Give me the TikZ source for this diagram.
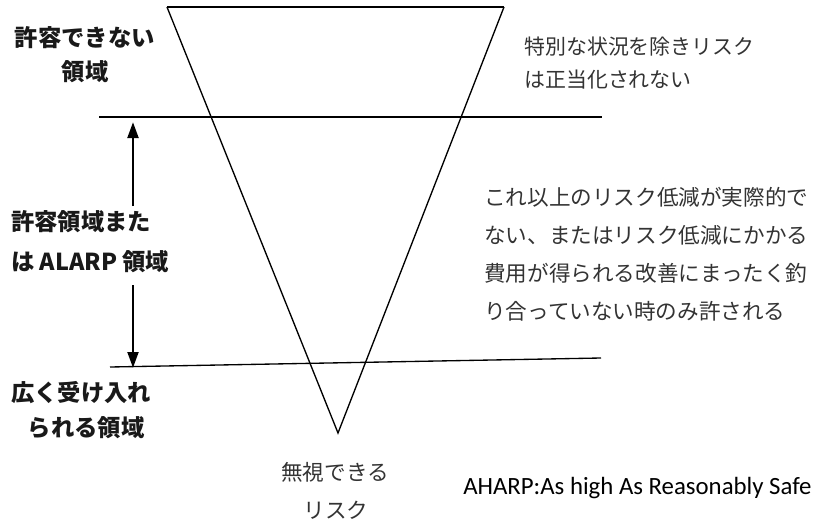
\documentclass[tikz,border=0pt]{standalone}
\usepackage{fontspec}
\usetikzlibrary{arrows.meta}
\newfontfamily\jp{Noto Sans CJK JP}
\newfontfamily\lat{Carlito}
\definecolor{txtgray}{HTML}{333333}
\begin{document}
\begin{tikzpicture}[x=0.75pt,y=-0.75pt,
  hline/.style={line width=1.3pt},
  tline/.style={line width=1pt},
  boldlbl/.style={font=\jp\bfseries\fontsize{17.5pt}{21pt}\selectfont,inner sep=0pt,text=black!90},
  note/.style={font=\jp\fontsize{15.7pt}{19pt}\selectfont,inner sep=0pt,text=txtgray,anchor=west},
  para/.style={font=\jp\fontsize{16.2pt}{19pt}\selectfont,inner sep=0pt,text=txtgray,anchor=west},
  arr/.style={line width=2.2pt,-{Triangle[length=12pt,width=8pt]}}]
\useasboundingbox (0,0) rectangle (818,525);
% triangle
\coordinate (tl) at (167,7);
\coordinate (tr) at (504,7);
\coordinate (apex) at (338,433);
\draw[hline] (tl) -- (tr);
\draw[tline] (tl) -- (apex) -- (tr);
% horizontal lines
\coordinate (u1) at (99,117);
\coordinate (u2) at (602,117);
\draw[hline] (u1) -- (u2);
\coordinate (l1) at (110,367);
\coordinate (l2) at (601,358);
\draw[tline] (l1) -- (l2);
% arrows
\coordinate (a1s) at (133,206);
\coordinate (a1e) at (133,122);
\coordinate (a2s) at (133,285);
\coordinate (a2e) at (133,368);
\draw[arr] (a1s) -- (a1e);
\draw[arr] (a2s) -- (a2e);
% left labels
\node[boldlbl] (n1) at (85,38) {許容できない};
\node[boldlbl] (n2) at (85,72) {領域};
\node[boldlbl,anchor=west] (n3) at (11,222) {許容領域また};
\node[boldlbl,anchor=west] (n4) at (11,262) {は ALARP 領域};
\node[boldlbl,anchor=west] (n5) at (11,393) {広く受け入れ};
\node[boldlbl] (n6) at (86,428) {られる領域};
% right notes
\node[note] (r1) at (524,47) {特別な状況を除きリスク};
\node[note] (r2) at (524,80) {は正当化されない};
\node[para] (p1) at (484,197) {これ以上のリスク低減が実際的で};
\node[para] (p2) at (484,235) {ない、またはリスク低減にかかる};
\node[para] (p3) at (484,273) {費用が得られる改善にまったく釣};
\node[para] (p4) at (484,311) {り合っていない時のみ許される};
% bottom
\node[para,anchor=center] (b1) at (335,472) {無視できる};
\node[para,anchor=center] (b2) at (336,510) {リスク};
\node[font=\lat\fontsize{18.6pt}{22pt}\selectfont,inner sep=0pt,anchor=west,text=black] (ah) at (463,488) {AHARP:As high As Reasonably Safe};
\end{tikzpicture}
\end{document}
